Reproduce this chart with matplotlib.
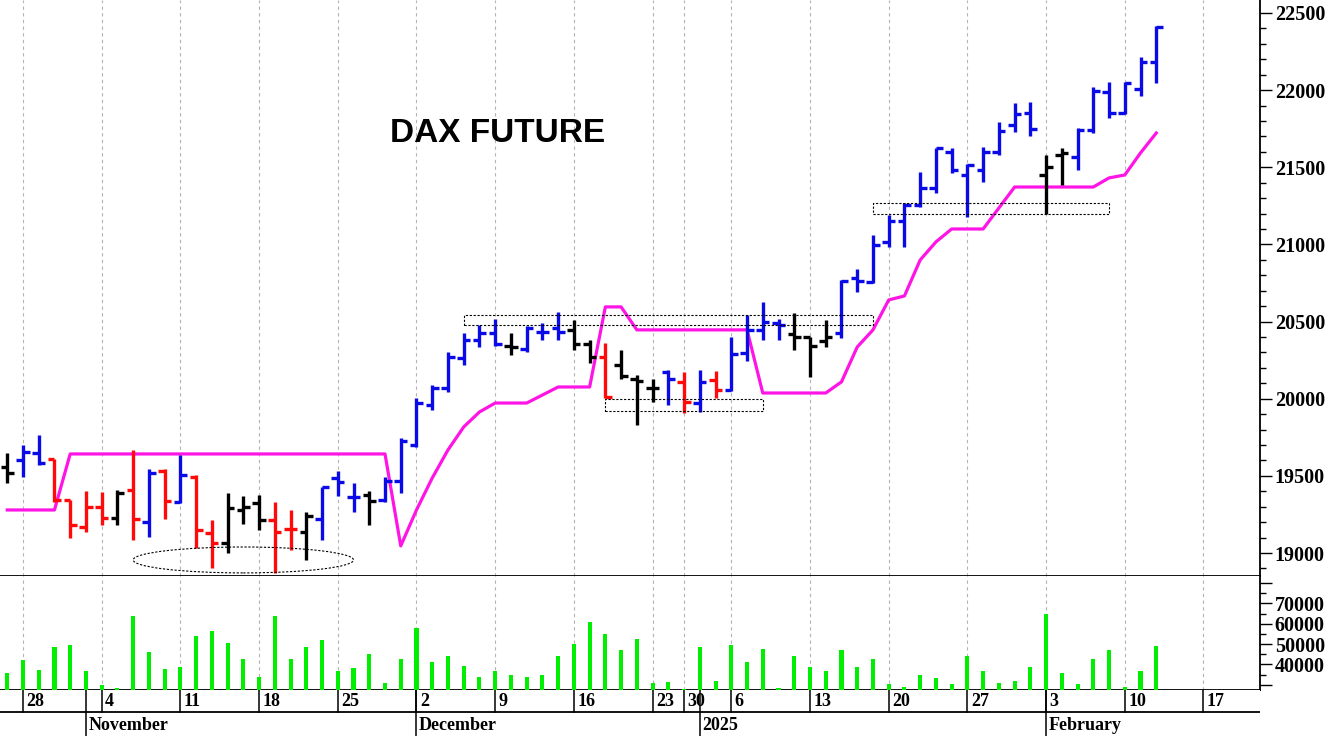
import matplotlib
matplotlib.use("Agg")
import matplotlib.pyplot as plt
from matplotlib.patches import Rectangle, Ellipse
from matplotlib.ticker import MultipleLocator, FuncFormatter
import pandas as pd

# trading days shown (Eurex closed 24-26 and 31 Dec, 1 Jan)
dates = pd.to_datetime([
    "2024-10-25", "2024-10-28", "2024-10-29", "2024-10-30", "2024-10-31",
    "2024-11-01", "2024-11-04", "2024-11-05", "2024-11-06", "2024-11-07",
    "2024-11-08", "2024-11-11", "2024-11-12", "2024-11-13", "2024-11-14",
    "2024-11-15", "2024-11-18", "2024-11-19", "2024-11-20", "2024-11-21",
    "2024-11-22", "2024-11-25", "2024-11-26", "2024-11-27", "2024-11-28",
    "2024-11-29", "2024-12-02", "2024-12-03", "2024-12-04", "2024-12-05",
    "2024-12-06", "2024-12-09", "2024-12-10", "2024-12-11", "2024-12-12",
    "2024-12-13", "2024-12-16", "2024-12-17", "2024-12-18", "2024-12-19",
    "2024-12-20", "2024-12-23", "2024-12-27", "2024-12-30", "2025-01-02",
    "2025-01-03", "2025-01-06", "2025-01-07", "2025-01-08", "2025-01-09",
    "2025-01-10", "2025-01-13", "2025-01-14", "2025-01-15", "2025-01-16",
    "2025-01-17", "2025-01-20", "2025-01-21", "2025-01-22", "2025-01-23",
    "2025-01-24", "2025-01-27", "2025-01-28", "2025-01-29", "2025-01-30",
    "2025-01-31", "2025-02-03", "2025-02-04", "2025-02-05", "2025-02-06",
    "2025-02-07", "2025-02-10", "2025-02-11", "2025-02-12",
])

opens = [19560, 19603, 19646, 19607, 19344, 19171, 19296, 19225, 19409, 19203,
         19534, 19333, 19495, 19128, 19063, 19279, 19322, 19214, 19156, 19138,
         19220, 19484, 19361, 19376, 19344, 19469, 19700, 19960, 20068, 20262,
         20381, 20428, 20342, 20320, 20435, 20457, 20446, 20355, 20273, 20219,
         20126, 20068, 20176, 20111, 19970, 20122, 20057, 20295, 20446, 20489,
         20420, 20398, 20376, 20424, 20780, 20759, 21018, 21154, 21256, 21364,
         21601, 21450, 21483, 21597, 21774, 21850, 21450, 21580, 21569, 21742,
         21990, 21854, 22005, 22185]
highs = [19646, 19700, 19765, 19607, 19344, 19404, 19398, 19409, 19668, 19542,
         19542, 19635, 19506, 19214, 19387, 19370, 19376, 19328, 19279, 19268,
         19430, 19534, 19452, 19402, 19495, 19743, 20003, 20089, 20305, 20424,
         20478, 20515, 20424, 20472, 20489, 20565, 20511, 20381, 20359, 20316,
         20154, 20126, 20187, 20176, 20187, 20182, 20402, 20543, 20629, 20515,
         20554, 20402, 20510, 20770, 20839, 21061, 21191, 21267, 21472, 21623,
         21623, 21521, 21634, 21796, 21915, 21925, 21580, 21623, 21753, 22023,
         22055, 22055, 22213, 22416]
lows = [19452, 19495, 19570, 19333, 19095, 19134, 19182, 19182, 19084, 19106,
        19218, 19322, 19030, 18901, 18998, 19186, 19149, 18868, 19020, 18955,
        19084, 19370, 19268, 19182, 19333, 19387, 19690, 19927, 20046, 20219,
        20338, 20342, 20284, 20305, 20381, 20381, 20316, 20230, 20003, 20126,
        19830, 19981, 19960, 19910, 19917, 20003, 20050, 20247, 20381, 20381,
        20316, 20143, 20338, 20392, 20694, 20748, 20986, 20986, 21245, 21336,
        21461, 21180, 21407, 21580, 21731, 21703, 21197, 21385, 21483, 21724,
        21817, 21845, 21965, 22044]
closes = [19521, 19657, 19586, 19344, 19182, 19296, 19225, 19391, 19220, 19516,
          19339, 19506, 19149, 19063, 19290, 19300, 19214, 19138, 19156, 19242,
          19430, 19462, 19361, 19337, 19469, 19725, 19975, 20068, 20273, 20381,
          20424, 20355, 20333, 20461, 20435, 20435, 20355, 20273, 20014, 20148,
          20117, 20068, 20126, 19981, 20111, 20057, 20290, 20446, 20500, 20478,
          20398, 20344, 20398, 20760, 20765, 20996, 21154, 21256, 21364, 21623,
          21483, 21515, 21601, 21737, 21845, 21746, 21500, 21595, 21742, 21997,
          21854, 22046, 22185, 22412]
# b = up trend, r = down trend, k = neutral
trend = list("kbbrrrrkrbrbrrkkkrrkbbbkbb"
             "bbbbbbkbbbkkrkkkbrbrbbbbkkk"
             "bbbbbbbbbbbbbkkbbbbbb")
volume = [36000, 42000, 37500, 48400, 49400, 37000, 29700, 28200, 64000, 46000,
          38000, 39000, 53800, 56700, 50800, 42500, 34000, 64000, 42500, 48400,
          51800, 37000, 38500, 45400, 31000, 42500, 57700, 41000, 44000, 39500,
          34000, 37000, 34600, 34000, 34600, 44000, 50300, 60700, 55200, 46900,
          52300, 31000, 31600, 28000, 48400, 32000, 49400, 41000, 47400, 28200,
          44000, 39000, 37000, 46900, 39000, 42500, 30600, 28700, 34600, 33600,
          30600, 44400, 37000, 31000, 32000, 39000, 65000, 36000, 30600, 42500,
          46900, 29000, 37000, 48900]
stop_line = [19279, 19279, 19279, 19279, 19642, 19642, 19642, 19642, 19642, 19642,
             19642, 19642, 19642, 19642, 19642, 19642, 19642, 19642, 19642, 19642,
             19642, 19642, 19642, 19642, 19642, 19046, 19279, 19486, 19668, 19817,
             19914, 19972, 19972, 19972, 20024, 20076, 20076, 20076, 20595, 20595,
             20446, 20446, 20446, 20446, 20446, 20446, 20446, 20446, 20037, 20037,
             20037, 20037, 20037, 20109, 20335, 20446, 20640, 20666, 20899, 21016,
             21100, 21100, 21100, 21236, 21372, 21372, 21372, 21372, 21372, 21372,
             21431, 21450, 21593, 21722]

# marked zones: (first day, last day, low, high)
boxes = [("2024-12-05", "2025-01-17", 20478, 20543),
         ("2024-12-18", "2025-01-08", 19920, 19998),
         ("2025-01-17", "2025-02-07", 21197, 21269)]
oval = ("2024-11-06", "2024-11-26", 18871, 19039)

month_names = {11: "November", 12: "December", 1: "2025", 2: "February"}

colors = {"b": "#0a0ae6", "r": "#ff0a0a", "k": "#000000"}

# axis days incl. some future sessions
all_days = list(dates) + list(pd.bdate_range("2025-02-13", "2025-02-21"))
pos = {d: i for i, d in enumerate(all_days)}
x = list(range(len(dates)))

W, H = 1331, 736
fig = plt.figure(figsize=(W / 100, H / 100), dpi=100)
plt.rcParams['font.family'] = 'Liberation Serif'
plt.rcParams['font.weight'] = 'bold'

right = 1260 / W
ax = fig.add_axes([0, 1 - 576 / H, right, 576 / H])
axv = fig.add_axes([0, 1 - 690 / H, right, 114 / H])
axd = fig.add_axes([0, 0, right, 46 / H])

xmin, xmax = -0.46, 79.59
for a in (ax, axv, axd):
    a.set_xlim(xmin, xmax)
    a.set_xticks([])

week_ticks = [i for i in range(1, len(all_days))
              if all_days[i].isocalendar()[1] != all_days[i - 1].isocalendar()[1]]
month_ticks = [i for i in range(1, len(all_days))
               if all_days[i].month != all_days[i - 1].month]

# grid
for a in (ax, axv):
    for t in week_ticks:
        a.axvline(t, color="#b4b4b4", lw=0.8, ls=(0, (3, 3)), zorder=0)

# OHLC bars
tw = 0.42
cols = [colors[c] for c in trend]
ax.vlines(x, lows, highs, colors=cols, lw=2.4, zorder=3)
ax.hlines(opens, [i - tw for i in x], x, colors=cols, lw=2.4, zorder=3)
ax.hlines(closes, x, [i + tw for i in x], colors=cols, lw=2.4, zorder=3)

ax.plot(x, stop_line, color="#ff14e6", lw=2.3, zorder=2)

for d0, d1, lo, hi in boxes:
    i0, i1 = pos[pd.Timestamp(d0)], pos[pd.Timestamp(d1)]
    ax.add_patch(Rectangle((i0, lo), i1 - i0, hi - lo, fill=False, ec="black",
                           lw=0.8, ls=(0, (2, 1.5)), zorder=4))
i0, i1 = pos[pd.Timestamp(oval[0])], pos[pd.Timestamp(oval[1])]
ax.add_patch(Ellipse(((i0 + i1) / 2, (oval[2] + oval[3]) / 2), i1 - i0,
                     oval[3] - oval[2], fill=False, ec="black", lw=0.8,
                     ls=(0, (2, 1.5)), zorder=4))

ax.set_ylim(18851, 22584)
ax.yaxis.tick_right()
ax.yaxis.set_major_locator(MultipleLocator(500))
ax.yaxis.set_minor_locator(MultipleLocator(100))
ax.tick_params(axis="y", which="major", length=8.6, width=1, pad=2, labelsize=14.5)
ax.tick_params(axis="y", which="minor", length=4.3, width=1)

fig.text(498 / W, 1 - 133 / H, "DAX FUTURE", family="Liberation Sans",
         weight="bold", fontsize=24, ha="center", va="center")

# volume
axv.bar(x, volume, width=0.26, bottom=0, color="#00ee00", zorder=3)
axv.set_ylim(27460, 83500)
axv.yaxis.tick_right()
axv.yaxis.set_major_locator(MultipleLocator(10000))
axv.yaxis.set_minor_locator(MultipleLocator(5000))
axv.yaxis.set_major_formatter(FuncFormatter(
    lambda v, p: f"{int(v)}" if 40000 <= v <= 70000 else ""))
axv.tick_params(axis="y", which="major", length=8.6, width=1, pad=2, labelsize=14.5)
axv.tick_params(axis="y", which="minor", length=4.3, width=1)

for a in (ax, axv):
    a.spines["top"].set_visible(False)
    a.spines["left"].set_visible(False)
    a.spines["right"].set_linewidth(1.3)
    a.spines["bottom"].set_linewidth(1.3)

# date strip
axd.set_ylim(0, 46)
axd.set_yticks([])
for s in axd.spines.values():
    s.set_visible(False)
axd.axhline(24, color="black", lw=1.3)
for t in week_ticks:
    axd.plot([t, t], [24, 46], color="black", lw=1.1)
    axd.text(t + 0.22, 35, str(all_days[t].day), fontsize=13, ha="left", va="center")
for t in month_ticks:
    axd.plot([t, t], [0, 46], color="black", lw=1.1)
    axd.text(t + 0.15, 11, month_names[all_days[t].month], fontsize=13,
             ha="left", va="center")

fig.savefig("out.png", dpi=100)
